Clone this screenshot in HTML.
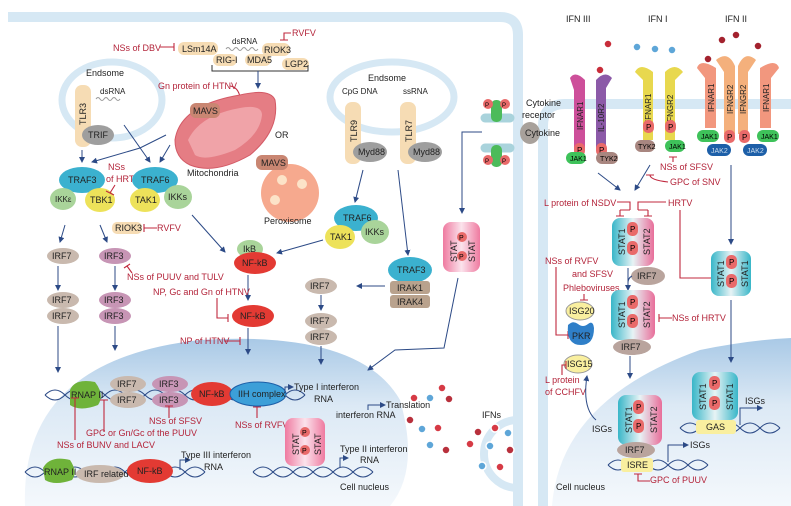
<!DOCTYPE html>
<html><head><meta charset="utf-8"><style>
html,body{margin:0;padding:0;background:#fff;}
svg{display:block;font-family:"Liberation Sans",sans-serif;}
.t{font-size:9px;fill:#222;}
.r{font-size:9px;fill:#b3243a;}
.s{font-size:8px;fill:#222;}
.ln{stroke:#2c4a86;stroke-width:1;fill:none;}
.rl{stroke:#c0283e;stroke-width:1.1;fill:none;}
</style></head><body>
<svg width="791" height="506" viewBox="0 0 791 506" xmlns="http://www.w3.org/2000/svg">
<defs>
<marker id="a" markerWidth="6" markerHeight="6" refX="5" refY="3" orient="auto"><path d="M0,0L6,3L0,6z" fill="#2c4a86"/></marker>
<linearGradient id="nuc" x1="0" y1="0" x2="0" y2="1"><stop offset="0" stop-color="#a9c9e6"/><stop offset="0.4" stop-color="#dce9f5"/><stop offset="1" stop-color="#f4f8fc"/></linearGradient>
<linearGradient id="s12" x1="0" y1="0" x2="1" y2="0"><stop offset="0" stop-color="#38b6c8"/><stop offset="0.5" stop-color="#e7f3f5"/><stop offset="1" stop-color="#e86e9a"/></linearGradient>
<linearGradient id="s11" x1="0" y1="0" x2="1" y2="0"><stop offset="0" stop-color="#38b6c8"/><stop offset="0.5" stop-color="#e7f3f5"/><stop offset="1" stop-color="#38b6c8"/></linearGradient>
<linearGradient id="spk" x1="0" y1="0" x2="1" y2="0"><stop offset="0" stop-color="#ef7aa0"/><stop offset="0.5" stop-color="#fbe3ec"/><stop offset="1" stop-color="#ef7aa0"/></linearGradient>
</defs>

<!-- membranes -->
<path d="M8,17 H500 Q518,17 518,35 V506" stroke="#d6e8f4" stroke-width="10" fill="none"/>
<path d="M791,104 H565 Q543,104 543,126 V506" stroke="#d6e8f4" stroke-width="10" fill="none"/>
<path d="M518,420 A34,34 0 1 0 518,488" stroke="#d6e8f4" stroke-width="8" fill="none"/>

<!-- nucleus left -->
<path d="M25,506 Q20,360 200,340 Q360,330 400,400 Q420,470 390,506 Z" fill="url(#nuc)"/>
<!-- nucleus right -->
<path d="M552,506 Q560,400 700,350 Q750,340 791,338 V506 Z" fill="url(#nuc)"/>

<!-- endosomes -->
<ellipse cx="112" cy="100" rx="50" ry="38" fill="none" stroke="#d6e8f4" stroke-width="7"/>
<ellipse cx="392" cy="97" rx="62" ry="35" fill="none" stroke="#d6e8f4" stroke-width="7"/>
<text class="t" x="86" y="76">Endsome</text>
<text class="t" x="368" y="81">Endsome</text>
<rect x="75" y="85" width="16" height="62" rx="7" fill="#f6dcb4"/>
<text class="t" transform="translate(86,125) rotate(-90)">TLR3</text>
<text class="s" x="100" y="94" fill="#888">dsRNA</text>
<path d="M96,99 q2,-3 4,0 t4,0 t4,0 t4,0 t4,0 t4,0" stroke="#999" fill="none"/>
<ellipse cx="98" cy="135" rx="16" ry="10" fill="#9e9e9e"/><text class="t" x="88" y="138">TRIF</text>
<rect x="345" y="102" width="16" height="62" rx="7" fill="#f6dcb4"/>
<text class="t" transform="translate(357,142) rotate(-90)">TLR9</text>
<rect x="400" y="102" width="16" height="62" rx="7" fill="#f6dcb4"/>
<text class="t" transform="translate(412,142) rotate(-90)">TLR7</text>
<text class="s" x="342" y="94">CpG DNA</text><text class="s" x="403" y="94">ssRNA</text>
<ellipse cx="370" cy="152" rx="17" ry="10" fill="#9e9e9e"/><text class="t" x="358" y="155">Myd88</text>
<ellipse cx="425" cy="152" rx="17" ry="10" fill="#9e9e9e"/><text class="t" x="413" y="155">Myd88</text>

<!-- RIG-I area -->
<text class="r" x="113" y="51">NSs of DBV</text><path class="rl" d="M160,47 H174 M174,43 V51"/>
<rect x="178" y="42" width="40" height="13" rx="6" fill="#f6dcb4"/><text class="t" x="182" y="52">LSm14A</text>
<text class="s" x="232" y="44" fill="#888">dsRNA</text>
<path d="M226,49 q2,-3 4,0 t4,0 t4,0 t4,0 t4,0 t4,0 t4,0 t4,0" stroke="#999" fill="none"/>
<rect x="262" y="43" width="28" height="13" rx="6" fill="#f6dcb4"/><text class="t" x="264" y="53">RIOK3</text>
<text class="r" x="292" y="36">RVFV</text><path class="rl" d="M291,33 H284 V40 M280,40 H288"/>
<rect x="213" y="54" width="24" height="12" rx="6" fill="#f6dcb4"/><text class="t" x="216" y="63">RIG-I</text>
<rect x="245" y="54" width="26" height="12" rx="6" fill="#f6dcb4"/><text class="t" x="247" y="63">MDA5</text>
<rect x="282" y="58" width="27" height="12" rx="6" fill="#f6dcb4"/><text class="t" x="285" y="67">LGP2</text>
<path d="M212,65 V71 H308 V65" stroke="#333" fill="none"/>
<line class="ln" x1="258" y1="71" x2="258" y2="88" marker-end="url(#a)"/>
<text class="r" x="158" y="89">Gn protein of HTNV</text><path class="rl" d="M230,86 Q238,87 240,97 M235,98 H245"/>

<!-- mitochondria -->
<path d="M175,140 Q180,105 240,95 Q270,88 275,100 Q280,130 250,155 Q215,175 190,165 Q175,158 175,140 Z" fill="#e57d84" stroke="#d35a66"/>
<path d="M188,140 Q200,115 240,108 Q262,104 262,115 Q260,135 235,150 Q205,162 195,155 Z" fill="#f0a3a8"/>
<rect x="190" y="103" width="30" height="15" rx="6" fill="#c98672"/><text class="t" x="193" y="114">MAVS</text>
<text class="t" x="187" y="176">Mitochondria</text>
<text class="t" x="275" y="138">OR</text>
<circle cx="290" cy="193" r="29" fill="#f6a98e"/>
<circle cx="282" cy="180" r="5" fill="#fce3c8"/><circle cx="302" cy="184" r="5" fill="#fce3c8"/><circle cx="275" cy="200" r="5" fill="#fce3c8"/>
<rect x="256" y="155" width="32" height="15" rx="6" fill="#c98672"/><text class="t" x="261" y="166">MAVS</text>
<text class="t" x="264" y="224">Peroxisome</text>

<!-- arrows top -->
<line class="ln" x1="82" y1="150" x2="82" y2="162" marker-end="url(#a)"/>
<path class="ln" d="M166,135 L140,148 L92,162" marker-end="url(#a)"/>
<line class="ln" x1="124" y1="125" x2="150" y2="162" marker-end="url(#a)"/>
<line class="ln" x1="170" y1="145" x2="160" y2="162" marker-end="url(#a)"/>

<!-- TRAF3 / TRAF6 -->
<ellipse cx="82" cy="180" rx="23" ry="13" fill="#3bb1cf"/><text class="t" x="68" y="183">TRAF3</text>
<ellipse cx="63" cy="199" rx="13" ry="11" fill="#a9d49a"/><text class="s" x="55" y="202">IKKε</text>
<ellipse cx="100" cy="200" rx="15" ry="12" fill="#ede25a"/><text class="t" x="90" y="203">TBK1</text>
<text class="r" x="108" y="170">NSs</text><text class="r" x="106" y="182">of HRTV</text>
<path class="rl" d="M115,185 L110,193 M106,191 L114,195"/>
<ellipse cx="155" cy="180" rx="23" ry="13" fill="#3bb1cf"/><text class="t" x="141" y="183">TRAF6</text>
<ellipse cx="145" cy="200" rx="15" ry="12" fill="#ede25a"/><text class="t" x="135" y="203">TAK1</text>
<ellipse cx="178" cy="197" rx="14" ry="12" fill="#a9d49a"/><text class="t" x="168" y="200">IKKs</text>
<rect x="112" y="222" width="30" height="12" rx="5" fill="#f6dcb4"/><text class="t" x="115" y="231">RIOK3</text>
<path class="rl" d="M144,228 H157 M144,224 V232"/><text class="r" x="157" y="231">RVFV</text>
<line class="ln" x1="65" y1="225" x2="60" y2="242" marker-end="url(#a)"/>
<line class="ln" x1="100" y1="225" x2="107" y2="242" marker-end="url(#a)"/>
<line class="ln" x1="192" y1="215" x2="225" y2="252" marker-end="url(#a)"/>

<!-- IRF columns -->
<g font-size="9">
<ellipse cx="63" cy="256" rx="16" ry="8" fill="#c9b9ae"/><text class="t" x="52" y="259">IRF7</text>
<ellipse cx="115" cy="256" rx="16" ry="8" fill="#c795b5"/><text class="t" x="104" y="259">IRF3</text>
<ellipse cx="63" cy="300" rx="16" ry="8" fill="#c9b9ae"/><text class="t" x="52" y="303">IRF7</text>
<ellipse cx="63" cy="316" rx="16" ry="8" fill="#c9b9ae"/><text class="t" x="52" y="319">IRF7</text>
<ellipse cx="115" cy="300" rx="16" ry="8" fill="#c795b5"/><text class="t" x="104" y="303">IRF3</text>
<ellipse cx="115" cy="316" rx="16" ry="8" fill="#c795b5"/><text class="t" x="104" y="319">IRF3</text>
</g>
<line class="ln" x1="58" y1="266" x2="58" y2="290" marker-end="url(#a)"/>
<line class="ln" x1="115" y1="266" x2="115" y2="290" marker-end="url(#a)"/>
<line class="ln" x1="58" y1="326" x2="58" y2="372" marker-end="url(#a)"/>
<line class="ln" x1="115" y1="326" x2="115" y2="350" marker-end="url(#a)"/>
<path class="rl" d="M127,266 L132,273 M124,268 L130,264"/>
<text class="r" x="127" y="280">NSs of PUUV and TULV</text>

<!-- NF-kB -->
<ellipse cx="250" cy="249" rx="13" ry="9" fill="#a9d49a"/><text class="t" x="243" y="252">IkB</text>
<ellipse cx="255" cy="263" rx="21" ry="11" fill="#e33a33"/><text class="t" x="242" y="266" fill="#fff">NF-kB</text>
<line class="ln" x1="248" y1="275" x2="248" y2="300" marker-end="url(#a)"/>
<text class="r" x="153" y="295">NP, Gc and Gn  of HTNV</text>
<path class="rl" d="M217,298 V318 H228 M228,314 V322"/>
<ellipse cx="253" cy="316" rx="21" ry="11" fill="#e33a33"/><text class="t" x="240" y="319" fill="#fff">NF-kB</text>
<line class="ln" x1="248" y1="328" x2="248" y2="354" marker-end="url(#a)"/>
<text class="r" x="180" y="344">NP of HTNV</text><path class="rl" d="M224,341 H240 M240,337 V345"/>

<!-- TLR9 branch -->
<line class="ln" x1="363" y1="170" x2="355" y2="202" marker-end="url(#a)"/>
<line class="ln" x1="398" y1="170" x2="408" y2="255" marker-end="url(#a)"/>
<ellipse cx="356" cy="218" rx="22" ry="13" fill="#3bb1cf"/><text class="t" x="343" y="221">TRAF6</text>
<ellipse cx="340" cy="237" rx="15" ry="12" fill="#ede25a"/><text class="t" x="330" y="240">TAK1</text>
<ellipse cx="375" cy="232" rx="14" ry="12" fill="#a9d49a"/><text class="t" x="365" y="235">IKKs</text>
<line class="ln" x1="323" y1="240" x2="277" y2="253" marker-end="url(#a)"/>
<ellipse cx="410" cy="270" rx="22" ry="13" fill="#3bb1cf"/><text class="t" x="397" y="273">TRAF3</text>
<rect x="390" y="281" width="40" height="13" rx="3" fill="#b9a28d"/><text class="t" x="397" y="291">IRAK1</text>
<rect x="390" y="295" width="40" height="13" rx="3" fill="#b9a28d"/><text class="t" x="397" y="305">IRAK4</text>
<line class="ln" x1="385" y1="286" x2="357" y2="286" marker-end="url(#a)"/>
<ellipse cx="321" cy="286" rx="16" ry="8" fill="#c9b9ae"/><text class="t" x="310" y="289">IRF7</text>
<line class="ln" x1="321" y1="295" x2="321" y2="310" marker-end="url(#a)"/>
<ellipse cx="321" cy="321" rx="16" ry="8" fill="#c9b9ae"/><text class="t" x="310" y="324">IRF7</text>
<ellipse cx="321" cy="337" rx="16" ry="8" fill="#c9b9ae"/><text class="t" x="310" y="340">IRF7</text>
<line class="ln" x1="321" y1="346" x2="321" y2="364" marker-end="url(#a)"/>

<!-- cytokine receptor -->
<path d="M485,118 H510 M485,148 H510" stroke="#a9d3dc" stroke-width="9" stroke-linecap="round"/>
<rect x="491" y="100" width="11" height="22" rx="5" fill="#4cbb5a"/><rect x="491" y="145" width="11" height="22" rx="5" fill="#4cbb5a"/>
<circle cx="488" cy="104" r="5" fill="#e96a6a"/><circle cx="505" cy="104" r="5" fill="#e96a6a"/>
<circle cx="488" cy="160" r="5" fill="#e96a6a"/><circle cx="505" cy="160" r="5" fill="#e96a6a"/>
<text font-size="6" x="485" y="107">P</text><text font-size="6" x="502" y="107">P</text>
<text font-size="6" x="485" y="163">P</text><text font-size="6" x="502" y="163">P</text>
<ellipse cx="530" cy="133" rx="10" ry="11" fill="#a8a19b"/>
<text class="t" x="526" y="106">Cytokine</text><text class="t" x="522" y="118">receptor</text>
<text class="t" x="525" y="136">Cytokine</text>
<path class="ln" d="M482,132 H462 V213" marker-end="url(#a)"/>
<rect x="443" y="222" width="37" height="50" rx="8" fill="url(#spk)"/>
<text class="t" transform="translate(457,262) rotate(-90)">STAT</text>
<text class="t" transform="translate(475,262) rotate(-90)">STAT</text>
<circle cx="462" cy="237" r="5" fill="#e96a6a"/><circle cx="462" cy="256" r="5" fill="#e96a6a"/>
<text font-size="7" x="459" y="240">P</text><text font-size="7" x="459" y="259">P</text>
<path class="ln" d="M458,278 L444,348 L395,350 L368,370" marker-end="url(#a)"/>

<!-- nucleus contents -->
<path d="M45,395 q10,-10 20,0 t20,0 t20,0 t20,0 t20,0 t20,0 t20,0 t20,0 t20,0 t20,0 t20,0 t20,0 t20,0" stroke="#2c4a86" fill="none"/>
<path d="M45,395 q10,10 20,0 t20,0 t20,0 t20,0 t20,0 t20,0 t20,0 t20,0 t20,0 t20,0 t20,0 t20,0 t20,0" stroke="#2c4a86" fill="none"/>
<path d="M70,390 Q75,378 95,382 Q105,395 98,405 Q80,412 70,405 Z" fill="#6fb33a"/><text class="t" x="71" y="398">RNAP II</text>
<ellipse cx="128" cy="384" rx="18" ry="8" fill="#c9b9ae"/><text class="t" x="117" y="387">IRF7</text>
<ellipse cx="128" cy="400" rx="18" ry="8" fill="#c9b9ae"/><text class="t" x="117" y="403">IRF7</text>
<ellipse cx="170" cy="384" rx="18" ry="8" fill="#c795b5"/><text class="t" x="159" y="387">IRF3</text>
<ellipse cx="170" cy="400" rx="18" ry="8" fill="#c795b5"/><text class="t" x="159" y="403">IRF3</text>
<ellipse cx="212" cy="394" rx="21" ry="12" fill="#e33a33"/><text class="t" x="199" y="397" fill="#fff">NF-kB</text>
<ellipse cx="258" cy="394" rx="28" ry="12" fill="#3c9fd8" stroke="#1d5fa8"/><text class="t" x="238" y="397">IIH complex</text>
<path class="ln" d="M285,393 V387 H293" marker-end="url(#a)"/>
<text class="t" x="294" y="390">Type I interferon</text><text class="t" x="314" y="402">RNA</text>
<path class="ln" d="M368,410 V405 H385" marker-end="url(#a)"/>
<text class="t" x="386" y="408">Translation</text>
<text class="t" x="336" y="418">interferon RNA</text>
<path class="rl" d="M75,440 V398 M71,398 H79"/><path class="rl" d="M104,432 V400 M100,400 H108"/>
<path class="rl" d="M169,418 V406 M165,406 H173"/><path class="rl" d="M257,418 V407 M253,407 H261"/>
<text class="r" x="149" y="424">NSs of SFSV</text>
<text class="r" x="235" y="428">NSs of RVFV</text>
<text class="r" x="86" y="436">GPC or Gn/Gc of the PUUV</text>
<text class="r" x="57" y="448">NSs of BUNV  and LACV</text>
<rect x="285" y="418" width="40" height="48" rx="8" fill="url(#spk)"/>
<text class="t" transform="translate(299,455) rotate(-90)">STAT</text>
<text class="t" transform="translate(321,455) rotate(-90)">STAT</text>
<circle cx="305" cy="432" r="5" fill="#e96a6a"/><circle cx="305" cy="450" r="5" fill="#e96a6a"/>
<text font-size="7" x="302" y="435">P</text><text font-size="7" x="302" y="453">P</text>
<path d="M253,472 q10,-10 20,0 t20,0 t20,0 t20,0 t20,0 t20,0" stroke="#2c4a86" fill="none"/>
<path d="M253,472 q10,10 20,0 t20,0 t20,0 t20,0 t20,0 t20,0" stroke="#2c4a86" fill="none"/>
<path class="ln" d="M340,468 V458 H348" marker-end="url(#a)"/>
<text class="t" x="340" y="452">Type II interferon</text><text class="t" x="360" y="463">RNA</text>
<path d="M25,472 q10,-10 20,0 t20,0 t20,0 t20,0 t20,0 t20,0 t20,0 t20,0 t20,0" stroke="#2c4a86" fill="none"/>
<path d="M25,472 q10,10 20,0 t20,0 t20,0 t20,0 t20,0 t20,0 t20,0 t20,0 t20,0" stroke="#2c4a86" fill="none"/>
<path d="M43,468 Q50,455 70,460 Q78,472 72,480 Q55,486 45,480 Z" fill="#6fb33a"/><text class="t" x="44" y="475">RNAP II</text>
<ellipse cx="100" cy="474" rx="24" ry="9" fill="#c9b9ae"/><text class="t" x="84" y="477">IRF related</text>
<ellipse cx="150" cy="471" rx="23" ry="12" fill="#e33a33"/><text class="t" x="137" y="474" fill="#fff">NF-kB</text>
<path class="ln" d="M180,470 V460 H190" marker-end="url(#a)"/>
<text class="t" x="181" y="458">Type III interferon</text><text class="t" x="204" y="470">RNA</text>
<text class="t" x="340" y="490">Cell nucleus</text>

<!-- IFN dots -->
<g stroke="#fff" stroke-width="1.5">
<circle cx="442" cy="388" r="4" fill="#d63a45"/><circle cx="414" cy="398" r="4" fill="#d63a45"/><circle cx="430" cy="398" r="4" fill="#5ea6d8"/><circle cx="449" cy="399" r="4" fill="#b8303c"/>
<circle cx="410" cy="420" r="4" fill="#b8303c"/><circle cx="422" cy="429" r="4" fill="#5ea6d8"/><circle cx="438" cy="428" r="4" fill="#d63a45"/><circle cx="430" cy="445" r="4" fill="#5ea6d8"/><circle cx="446" cy="450" r="4" fill="#b8303c"/>
<circle cx="478" cy="432" r="4" fill="#b8303c"/><circle cx="495" cy="428" r="4" fill="#d63a45"/><circle cx="508" cy="433" r="4" fill="#5ea6d8"/><circle cx="470" cy="444" r="4" fill="#d63a45"/><circle cx="490" cy="446" r="4" fill="#5ea6d8"/><circle cx="510" cy="450" r="4" fill="#b8303c"/><circle cx="482" cy="466" r="4" fill="#5ea6d8"/><circle cx="500" cy="467" r="4" fill="#d63a45"/>
</g>
<text class="t" x="482" y="418">IFNs</text>

<!-- right side receptors -->
<text class="t" x="566" y="22">IFN III</text><text class="t" x="648" y="22">IFN I</text><text class="t" x="725" y="22">IFN II</text>
<g stroke="#fff" stroke-width="1.5">
<circle cx="608" cy="44" r="4" fill="#c82d3a"/><circle cx="600" cy="70" r="4" fill="#c82d3a"/><circle cx="581" cy="84" r="4" fill="#c82d3a"/>
<circle cx="637" cy="47" r="4" fill="#5ea6d8"/><circle cx="655" cy="49" r="4" fill="#5ea6d8"/><circle cx="672" cy="50" r="4" fill="#5ea6d8"/><circle cx="670" cy="76" r="4" fill="#5ea6d8"/>
<circle cx="722" cy="40" r="4" fill="#a3222e"/><circle cx="736" cy="35" r="4" fill="#a3222e"/><circle cx="758" cy="46" r="4" fill="#a3222e"/><circle cx="708" cy="59" r="4" fill="#a3222e"/><circle cx="730" cy="70" r="4" fill="#a3222e"/><circle cx="742" cy="70" r="4" fill="#a3222e"/>
</g>
<path d="M570,78 Q575,70 585,80 V150 H574 V90 Z" fill="#cd4f9a"/>
<path d="M596,80 Q605,70 612,78 L606,88 V150 H596 Z" fill="#8c5aa8"/>
<text class="s" transform="translate(583,130) rotate(-90)">IFNAR1</text><text class="s" transform="translate(604,132) rotate(-90)">IL-10R2</text>
<rect x="574" y="143" width="11" height="13" rx="5" fill="#e96a6a"/><text font-size="8" x="577" y="153">P</text>
<rect x="596" y="143" width="11" height="13" rx="5" fill="#e96a6a"/><text font-size="8" x="599" y="153">P</text>
<rect x="566" y="152" width="20" height="12" rx="6" fill="#3ec25a"/><text font-size="7" x="570" y="161">JAK1</text>
<rect x="596" y="152" width="22" height="12" rx="6" fill="#a88680"/><text font-size="7" x="600" y="161">TYK2</text>
<path d="M635,72 Q640,62 653,72 V140 H643 V80 Z" fill="#e8d84e"/>
<path d="M665,72 Q675,62 683,72 L675,80 V140 H665 Z" fill="#e8d84e"/>
<text class="s" transform="translate(651,122) rotate(-90)">IFNAR1</text><text class="s" transform="translate(673,124) rotate(-90)">IFNGR2</text>
<rect x="643" y="120" width="11" height="13" rx="5" fill="#e96a6a"/><text font-size="8" x="646" y="130">P</text>
<rect x="665" y="120" width="11" height="13" rx="5" fill="#e96a6a"/><text font-size="8" x="668" y="130">P</text>
<rect x="635" y="140" width="20" height="12" rx="6" fill="#a88680"/><text font-size="7" x="638" y="149">TYK2</text>
<rect x="665" y="140" width="20" height="12" rx="6" fill="#3ec25a"/><text font-size="7" x="669" y="149">JAK1</text>
<path d="M697,68 Q700,58 716,68 V128 H705 V78 Z" fill="#f2977e"/>
<path d="M716,60 Q728,50 735,66 V134 H724 V72 Z" fill="#f4b07c"/>
<path d="M738,66 Q745,50 756,60 L748,72 V134 H738 Z" fill="#f4b07c"/>
<path d="M760,68 Q776,58 779,68 L771,78 V128 H760 Z" fill="#f2977e"/>
<text class="s" transform="translate(714,112) rotate(-90)">IFNAR1</text><text class="s" transform="translate(733,114) rotate(-90)">IFNGR2</text>
<text class="s" transform="translate(746,114) rotate(-90)">IFNGR2</text><text class="s" transform="translate(769,112) rotate(-90)">IFNAR1</text>
<rect x="697" y="130" width="22" height="12" rx="6" fill="#3ec25a"/><text font-size="7" x="701" y="139">JAK1</text>
<rect x="757" y="130" width="22" height="12" rx="6" fill="#3ec25a"/><text font-size="7" x="761" y="139">JAK1</text>
<rect x="724" y="130" width="11" height="13" rx="5" fill="#e96a6a"/><text font-size="8" x="727" y="140">P</text>
<rect x="739" y="130" width="11" height="13" rx="5" fill="#e96a6a"/><text font-size="8" x="742" y="140">P</text>
<rect x="707" y="144" width="24" height="12" rx="6" fill="#1d5fa8"/><text font-size="7" x="711" y="153" fill="#cde">JAK2</text>
<rect x="743" y="144" width="24" height="12" rx="6" fill="#1d5fa8"/><text font-size="7" x="747" y="153" fill="#cde">JAK2</text>

<!-- right signaling -->
<text class="r" x="660" y="170">NSs of SFSV</text><path class="rl" d="M673,162 V157 M669,157 H677"/>
<text class="r" x="670" y="185">GPC of SNV</text><path class="rl" d="M668,182 Q650,180 650,175 M646,175 H654"/>
<line class="ln" x1="598" y1="173" x2="620" y2="190" marker-end="url(#a)"/>
<line class="ln" x1="650" y1="165" x2="635" y2="190" marker-end="url(#a)"/>
<text class="r" x="544" y="206">L protein of NSDV</text><text class="r" x="668" y="206">HRTV</text>
<path class="rl" d="M617,202 H630 V210 M638,210 V202 H666 M620,210 H630 M638,210 H648 M620,210 V216 M648,210 V216 M616,216 H624 M644,216 H652"/>
<path class="rl" d="M680,210 V278 H712 M712,274 V282"/>
<rect x="612" y="218" width="42" height="48" rx="8" fill="url(#s12)"/>
<text class="t" transform="translate(625,255) rotate(-90)">STAT1</text><text class="t" transform="translate(650,255) rotate(-90)">STAT2</text>
<rect x="627" y="222" width="11" height="14" rx="5" fill="#e96a6a"/><text font-size="8" x="630" y="232">P</text>
<rect x="627" y="241" width="11" height="14" rx="5" fill="#e96a6a"/><text font-size="8" x="630" y="251">P</text>
<ellipse cx="648" cy="276" rx="17" ry="9" fill="#b9a49d"/><text class="t" x="637" y="279">IRF7</text>
<path class="ln" d="M628,268 V290" marker-end="url(#a)"/><path class="ln" d="M632,276 Q628,278 628,283" />
<line class="ln" x1="731" y1="165" x2="731" y2="244" marker-end="url(#a)"/>
<rect x="711" y="251" width="40" height="45" rx="8" fill="url(#s11)"/>
<text class="t" transform="translate(724,287) rotate(-90)">STAT1</text><text class="t" transform="translate(748,287) rotate(-90)">STAT1</text>
<rect x="726" y="255" width="11" height="14" rx="5" fill="#e96a6a"/><text font-size="8" x="729" y="265">P</text>
<rect x="726" y="274" width="11" height="14" rx="5" fill="#e96a6a"/><text font-size="8" x="729" y="284">P</text>
<line class="ln" x1="731" y1="300" x2="731" y2="362" marker-end="url(#a)"/>
<text class="r" x="545" y="264">NSs of RVFV</text><text class="r" x="572" y="277">and SFSV</text>
<path class="rl" d="M556,267 V335 H568 M568,331 V339"/>
<text class="r" x="563" y="291">Phleboviruses</text><path class="rl" d="M584,294 V300 M580,300 H588"/>
<ellipse cx="580" cy="311" rx="14" ry="9" fill="#f9ef9f" stroke="#999"/><text class="t" x="569" y="314">ISG20</text>
<path d="M568,325 Q573,320 578,324 Q583,328 588,324 Q593,320 594,328 Q594,345 581,345 Q566,345 568,325 Z" fill="#2f7fc8"/><text class="t" x="572" y="339">PKR</text>
<rect x="611" y="290" width="44" height="50" rx="8" fill="url(#s12)"/>
<text class="t" transform="translate(625,328) rotate(-90)">STAT1</text><text class="t" transform="translate(650,328) rotate(-90)">STAT2</text>
<rect x="627" y="295" width="11" height="14" rx="5" fill="#e96a6a"/><text font-size="8" x="630" y="305">P</text>
<rect x="627" y="314" width="11" height="14" rx="5" fill="#e96a6a"/><text font-size="8" x="630" y="324">P</text>
<ellipse cx="632" cy="347" rx="19" ry="8" fill="#b9a49d"/><text class="t" x="621" y="350">IRF7</text>
<path class="rl" d="M659,318 H672 M659,314 V322"/><text class="r" x="672" y="321">NSs of HRTV</text>
<line class="ln" x1="630" y1="356" x2="630" y2="378" marker-end="url(#a)"/>
<ellipse cx="578" cy="364" rx="14" ry="9" fill="#f9ef9f" stroke="#999"/><text class="t" x="567" y="367">ISG15</text>
<path class="rl" d="M562,375 V365 H566 M566,361 V369"/>
<text class="r" x="545" y="383">L protein</text><text class="r" x="545" y="395">of CCHFV</text>
<path class="ln" d="M596,420 Q582,408 587,376" marker-end="url(#a)"/>
<text class="t" x="592" y="432">ISGs</text>
<rect x="618" y="395" width="44" height="50" rx="8" fill="url(#s12)"/>
<text class="t" transform="translate(632,433) rotate(-90)">STAT1</text><text class="t" transform="translate(657,433) rotate(-90)">STAT2</text>
<rect x="633" y="400" width="11" height="14" rx="5" fill="#e96a6a"/><text font-size="8" x="636" y="410">P</text>
<rect x="633" y="419" width="11" height="14" rx="5" fill="#e96a6a"/><text font-size="8" x="636" y="429">P</text>
<ellipse cx="636" cy="450" rx="19" ry="8" fill="#b9a49d"/><text class="t" x="625" y="453">IRF7</text>
<path d="M608,465 q10,-10 20,0 t20,0 t20,0 t20,0 t20,0" stroke="#2c4a86" fill="none"/>
<path d="M608,465 q10,10 20,0 t20,0 t20,0 t20,0 t20,0" stroke="#2c4a86" fill="none"/>
<rect x="621" y="458" width="32" height="14" rx="3" fill="#f9ef9f"/><text class="t" x="627" y="468" fill="#8a7a40">ISRE</text>
<path class="ln" d="M668,462 V445 H688" marker-end="url(#a)"/><text class="t" x="690" y="448">ISGs</text>
<path class="rl" d="M638,474 V481 H650 M634,474 H642"/><text class="r" x="650" y="483">GPC of PUUV</text>
<text class="t" x="556" y="490">Cell nucleus</text>
<rect x="692" y="372" width="46" height="48" rx="8" fill="url(#s11)"/>
<text class="t" transform="translate(706,410) rotate(-90)">STAT1</text><text class="t" transform="translate(733,410) rotate(-90)">STAT1</text>
<rect x="709" y="376" width="11" height="14" rx="5" fill="#e96a6a"/><text font-size="8" x="712" y="386">P</text>
<rect x="709" y="396" width="11" height="14" rx="5" fill="#e96a6a"/><text font-size="8" x="712" y="406">P</text>
<path d="M680,428 q10,-10 20,0 t20,0 t20,0 t20,0 t20,0" stroke="#2c4a86" fill="none"/>
<path d="M680,428 q10,10 20,0 t20,0 t20,0 t20,0 t20,0" stroke="#2c4a86" fill="none"/>
<rect x="696" y="420" width="40" height="14" rx="3" fill="#f9ef9f"/><text class="t" x="706" y="430" fill="#8a7a40">GAS</text>
<path class="ln" d="M740,425 V408 H762" marker-end="url(#a)"/><text class="t" x="745" y="404">ISGs</text>
</svg>
</body></html>
